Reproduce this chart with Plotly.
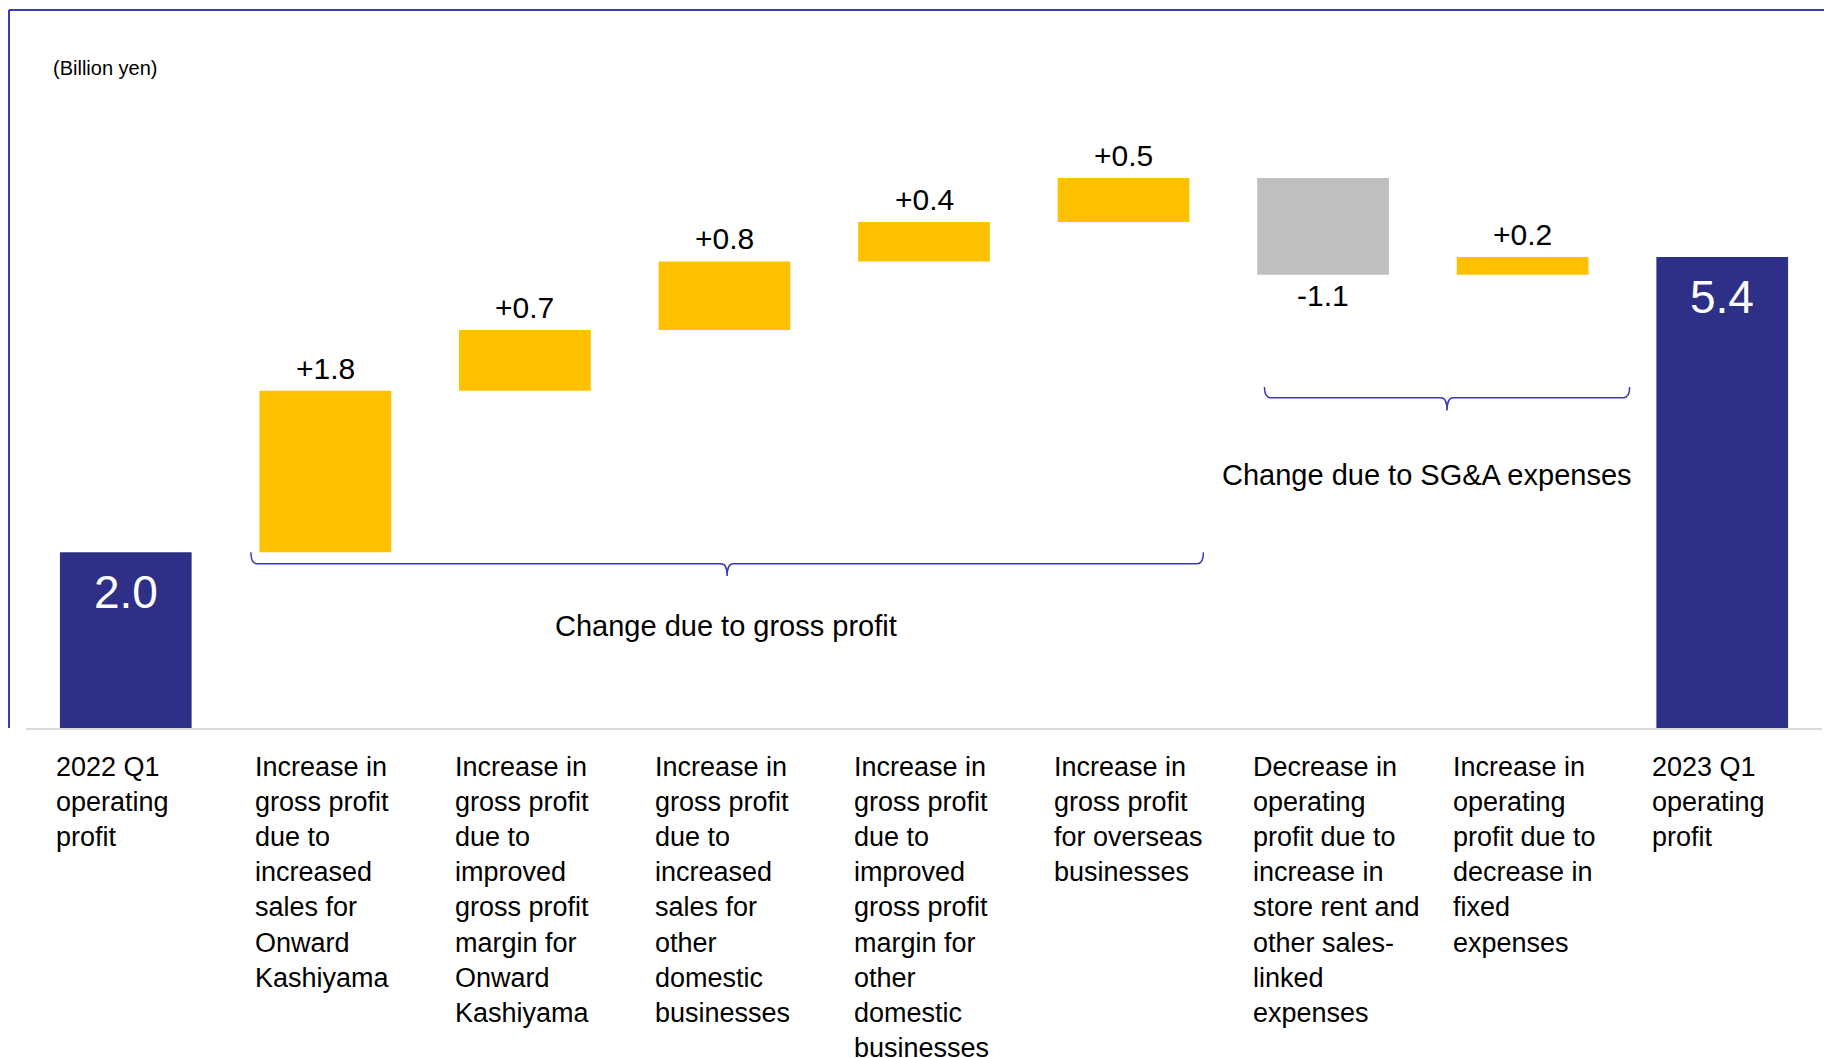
import plotly.graph_objects as go

# ---------------- data ----------------
categories = [
    "2022 Q1<br>operating<br>profit",
    "Increase in<br>gross profit<br>due to<br>increased<br>sales for<br>Onward<br>Kashiyama",
    "Increase in<br>gross profit<br>due to<br>improved<br>gross profit<br>margin for<br>Onward<br>Kashiyama",
    "Increase in<br>gross profit<br>due to<br>increased<br>sales for<br>other<br>domestic<br>businesses",
    "Increase in<br>gross profit<br>due to<br>improved<br>gross profit<br>margin for<br>other<br>domestic<br>businesses",
    "Increase in<br>gross profit<br>for overseas<br>businesses",
    "Decrease in<br>operating<br>profit due to<br>increase in<br>store rent and<br>other sales-<br>linked<br>expenses",
    "Increase in<br>operating<br>profit due to<br>decrease in<br>fixed<br>expenses",
    "2023 Q1<br>operating<br>profit",
]
measures = ["absolute", "relative", "relative", "relative", "relative",
            "relative", "relative", "relative", "total"]
values = [2.0, 1.84, 0.69, 0.78, 0.45, 0.50, -1.10, 0.20, 5.36]
value_text = ["2.0", "+1.8", "+0.7", "+0.8", "+0.4", "+0.5", "-1.1", "+0.2", "5.4"]
unit_label = "(Billion yen)"
group_labels = ["Change due to gross profit", "Change due to SG&A expenses"]

# ---------------- styles ----------------
NAVY = "#2E3087"
YELLOW = "#FFC000"
GRAY = "#BFBFBF"
FRAME = "#3B3BB5"
FONT = "Liberation Sans, Arial, sans-serif"
NARROW = "Liberation Sans Narrow, Arial Narrow, Liberation Sans, Arial, sans-serif"

x = list(range(len(categories)))

# running totals (for labels placed on the total bars)
running = []
acc = 0.0
for m, v in zip(measures, values):
    if m == "absolute":
        acc = v
    elif m == "relative":
        acc += v
    running.append(acc)

annotations = []
# value labels: white inside-top for totals, black outside for changes
for i, m in enumerate(measures):
    if m in ("absolute", "total"):
        annotations.append(dict(
            x=x[i], y=running[i], xref="x", yref="y",
            text=value_text[i], showarrow=False,
            xanchor="center", yanchor="top", yshift=-12,
            font=dict(family=NARROW, size=46, color="#FFFFFF"),
        ))
    else:
        v = values[i]
        if v >= 0:
            annotations.append(dict(
                x=x[i], y=running[i], xref="x", yref="y",
                text=value_text[i], showarrow=False,
                xanchor="center", yanchor="bottom", yshift=4,
                font=dict(family=FONT, size=30, color="#000000"),
            ))
        else:
            annotations.append(dict(
                x=x[i], y=running[i], xref="x", yref="y",
                text=value_text[i], showarrow=False,
                xanchor="center", yanchor="top", yshift=-2,
                font=dict(family=FONT, size=30, color="#000000"),
            ))

fig = go.Figure()
fig.add_trace(go.Waterfall(
    x=x,
    y=values,
    measure=measures,
    textposition="none",
    cliponaxis=False,
    increasing=dict(marker=dict(color=YELLOW, line=dict(width=0))),
    decreasing=dict(marker=dict(color=GRAY, line=dict(width=0))),
    totals=dict(marker=dict(color=NAVY, line=dict(width=0))),
    connector=dict(visible=False),
    hoverinfo="skip",
    showlegend=False,
))

# category labels (left aligned below baseline)
for i, c in enumerate(categories):
    annotations.append(dict(
        x=x[i] - 0.33, y=0, xref="x", yref="y",
        text=c, showarrow=False, align="left",
        xanchor="left", yanchor="top", xshift=-6, yshift=-22,
        font=dict(family=FONT, size=27, color="#000000"),
    ))

# group labels
annotations.append(dict(
    x=3.01, y=1.16, xref="x", yref="y", text=group_labels[0], showarrow=False,
    xanchor="center", yanchor="middle",
    font=dict(family=FONT, size=29, color="#000000"),
))
annotations.append(dict(
    x=6.52, y=2.88, xref="x", yref="y", text=group_labels[1], showarrow=False,
    xanchor="center", yanchor="middle",
    font=dict(family=FONT, size=29, color="#000000"),
))

# unit label
annotations.append(dict(
    x=-0.375, y=(728 - 68) / 615.0, xref="x", yref="paper", text=unit_label,
    showarrow=False, xanchor="left", yanchor="middle",
    font=dict(family=FONT, size=20, color="#000000"),
))


def brace(x0, x1, ytop, yline, ynotch, dx=0.03):
    xm = (x0 + x1) / 2.0
    return (
        f"M {x0} {ytop} "
        f"Q {x0} {yline} {x0 + dx} {yline} "
        f"L {xm - dx} {yline} "
        f"Q {xm} {yline} {xm} {ynotch} "
        f"Q {xm} {yline} {xm + dx} {yline} "
        f"L {x1 - dx} {yline} "
        f"Q {x1} {yline} {x1} {ytop}"
    )


shapes = [
    dict(type="path", xref="x", yref="y",
         path=brace(0.627, 5.40, 2.0, 1.87, 1.73),
         line=dict(color=FRAME, width=1.5)),
    dict(type="path", xref="x", yref="y",
         path=brace(5.706, 7.536, 3.88, 3.76, 3.615),
         line=dict(color=FRAME, width=1.5)),
    # slide frame (top and left border)
    dict(type="line", xref="paper", yref="paper",
         x0=(9 - 26) / 1796.0, x1=1.01, y0=(728 - 10) / 615.0, y1=(728 - 10) / 615.0,
         line=dict(color=FRAME, width=2)),
    dict(type="line", xref="paper", yref="paper",
         x0=(9 - 26) / 1796.0, x1=(9 - 26) / 1796.0, y0=0, y1=(728 - 10) / 615.0,
         line=dict(color=FRAME, width=2)),
]

fig.update_layout(
    width=1824, height=1058,
    margin=dict(l=26, r=2, t=113, b=330),
    paper_bgcolor="#FFFFFF", plot_bgcolor="#FFFFFF",
    waterfallgap=0.34,
    font=dict(family=FONT, color="#000000"),
    xaxis=dict(range=[-0.5, 8.5], showticklabels=False, showgrid=False,
               zeroline=False, showline=True, linecolor="#D9D9D9", linewidth=2,
               ticks=""),
    yaxis=dict(range=[0, 7], visible=False, showgrid=False, zeroline=False),
    annotations=annotations,
    shapes=shapes,
    showlegend=False,
)

fig.write_html("out.html", config={"displayModeBar": False},
               post_script="document.body.style.margin='0';document.body.style.overflow='hidden';")
